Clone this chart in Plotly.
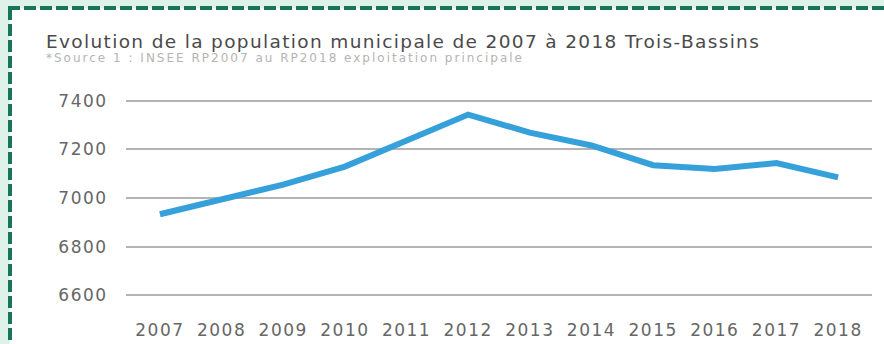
import plotly.graph_objects as go

# Population municipale de Trois-Bassins, 2007-2018
years = [2007, 2008, 2009, 2010, 2011, 2012, 2013, 2014, 2015, 2016, 2017, 2018]
population = [6933, 6995, 7055, 7129, 7236, 7343, 7269, 7216, 7135, 7119, 7144, 7085]
y_ticks = [6600, 6800, 7000, 7200, 7400]

title_text = "Evolution de la population municipale de 2007 à 2018 Trois-Bassins"
source_text = "*Source 1 : INSEE RP2007 au RP2018 exploitation principale"

W, H = 884, 344
L, R, T, B = 126, 12, 91, 39
FONT = "DejaVu Sans"
MINT = "#dff2ea"
FRAME = "#18755a"


def px(x):
    return (x - L) / (W - L - R)


def py(y):
    return (H - B - y) / (H - T - B)


def spaced(text, spacing):
    return f'<span style="letter-spacing:{spacing}px">{text}</span>'


fig = go.Figure()
fig.add_trace(go.Scatter(
    x=years, y=population, mode="lines",
    line=dict(color="#36a0da", width=6, shape="linear"),
    hoverinfo="x+y", showlegend=False,
))

shapes = [
    # mint surround on the left and top of the card
    dict(type="rect", xref="paper", yref="paper", x0=px(0), x1=px(10),
         y0=py(H), y1=py(0), fillcolor=MINT, line=dict(width=0), layer="below"),
    dict(type="rect", xref="paper", yref="paper", x0=px(0), x1=px(W),
         y0=py(8), y1=py(0), fillcolor=MINT, line=dict(width=0), layer="below"),
    # dashed frame: top and left edges
    dict(type="line", xref="paper", yref="paper", x0=px(8), x1=px(W),
         y0=py(8), y1=py(8), line=dict(color=FRAME, width=4, dash="12px,4px")),
    dict(type="line", xref="paper", yref="paper", x0=px(10), x1=px(10),
         y0=py(8), y1=py(H), line=dict(color=FRAME, width=4, dash="12px,4px")),
]

fig.update_layout(
    width=W, height=H,
    margin=dict(l=L, r=R, t=T, b=B, pad=0, autoexpand=False),
    paper_bgcolor="white",
    plot_bgcolor="rgba(0,0,0,0)",
    shapes=shapes,
    annotations=[
        dict(text=spaced(title_text, 1.35), xref="paper", yref="paper",
             x=px(44), y=py(41), xanchor="left", yanchor="middle", showarrow=False,
             font=dict(family=FONT, size=18.5, color="#4a4a4a")),
        dict(text=spaced(source_text, 2), xref="paper", yref="paper",
             x=px(44), y=py(58), xanchor="left", yanchor="middle", showarrow=False,
             font=dict(family=FONT, size=12, color="#b4b4b4")),
    ],
    xaxis=dict(
        range=[2006.45, 2018.55], tickmode="array", tickvals=years,
        ticktext=[spaced(str(y), 1.5) for y in years], showgrid=False,
        zeroline=False, showline=False, ticks="outside", ticklen=10,
        tickcolor="rgba(0,0,0,0)", automargin=False,
        tickfont=dict(family=FONT, size=17, color="#666666"),
    ),
    yaxis=dict(
        range=[6560, 7440], tickmode="array", tickvals=y_ticks,
        ticktext=[spaced(str(v), 1.5) for v in y_ticks], showgrid=True,
        gridcolor="#b4b4b4", gridwidth=1.5, zeroline=False, showline=False,
        ticks="outside", ticklen=14, tickcolor="rgba(0,0,0,0)", automargin=False,
        tickfont=dict(family=FONT, size=17, color="#666666"),
    ),
)

fig.write_html("out.html")
